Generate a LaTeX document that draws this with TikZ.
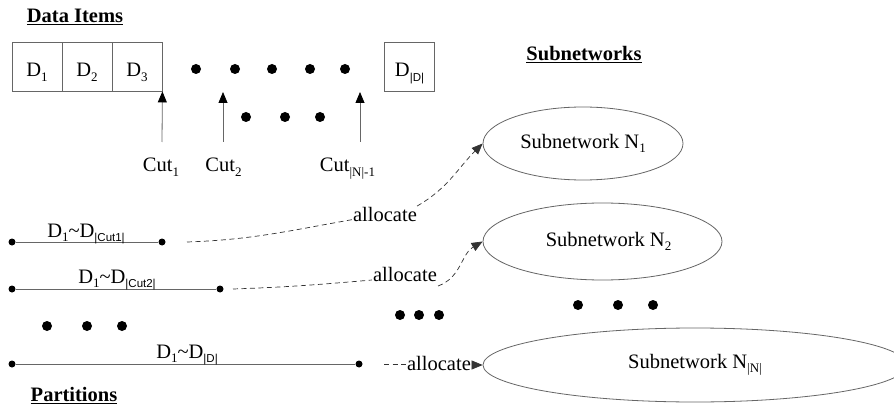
\documentclass[tikz,border=0pt]{standalone}
\usepackage{fontspec}
\setmainfont{Liberation Serif}
\newfontfamily\sfam{Liberation Sans}
\usetikzlibrary{shapes.geometric,arrows.meta}
\newcommand\sbs[1]{\raisebox{-0.2em}{\fontsize{13}{13}\selectfont #1}}
\newcommand\ssbs[1]{\raisebox{-0.2em}{\sfam\fontsize{11.5}{12}\selectfont #1}}
\begin{document}
\begin{tikzpicture}[x=1pt,y=-1pt,
  font=\fontsize{20.5}{24}\selectfont,
  txt/.style={anchor=base,inner sep=0pt},
  cell/.style={draw=gray!80!black,line width=0.8pt,minimum width=50pt,minimum height=49pt,inner sep=0pt,text depth=0pt},
  ell/.style={draw=gray!80!black,line width=0.8pt,ellipse,inner sep=0pt},
  bigdot/.style={fill=black},
  cutarrow/.style={draw=gray!80!black,line width=0.8pt,-{Triangle[length=11pt,width=9pt,fill=black,color=black]}},
  pline/.style={draw=gray!80!black,line width=0.8pt},
  pdot/.style={circle,fill=black,inner sep=0pt,minimum size=7pt},
  alloc/.style={draw=black!80,line width=0.7pt,dash pattern=on 5pt off 3.5pt},
  allocarrow/.style={alloc,-{Triangle[length=11pt,width=9pt]}},
  alab/.style={anchor=base,inner sep=1pt}]
\useasboundingbox (0,0) rectangle (894,414);
\fill[white] (0,0) rectangle (894,414);

% headings
\node[txt] (hdata) at (75,22.5) {\textbf{\underline{Data Items}}};
\node[txt] (hsub) at (584,60.5) {\textbf{\underline{Subnetworks}}};
\node[txt] (hpart) at (74,401.5) {\textbf{\underline{Partitions}}};

% data item cells
\node[cell] (d1) at (37,66.5) {};
\node[cell] (d2) at (87,66.5) {};
\node[cell] (d3) at (137,66.5) {};
\node[cell] (dD) at (409.5,66.5) {};
\node[txt] (t1) at (37,77) {D\sbs{1}};
\node[txt] (t2) at (87,77) {D\sbs{2}};
\node[txt] (t3) at (137,77) {D\sbs{3}};
\node[txt] (tD) at (409.5,77) {D\ssbs{|D|}};

% dots
\foreach \x in {196,235,272,310,345} \fill[bigdot] (\x,69) circle (5pt);
\foreach \x in {246,285,320} \fill[bigdot] (\x,117) circle (5pt);

% cuts
\node[txt] (cut1) at (161,172) {Cut\sbs{1}};
\node[txt] (cut2) at (223.5,172) {Cut\sbs{2}};
\node[txt] (cutn) at (347.5,172) {Cut\sbs{|N|-1}};
\coordinate (c1b) at (162,142);
\coordinate (c2b) at (223,142);
\coordinate (cnb) at (360,142);
\coordinate (c2t) at (223,92);
\coordinate (cnt) at (360,92);
\draw[cutarrow] (c1b) -- (d3.south east);
\draw[cutarrow] (c2b) -- (c2t);
\draw[cutarrow] (cnb) -- (cnt);

% subnetworks
\node[ell,minimum width=200pt,minimum height=73pt] (n1) at (583,143.5) {Subnetwork N\sbs{1}};
\node[ell,minimum width=239pt,minimum height=77pt] (n2) at (602.5,241.5) {\hspace{12pt}Subnetwork N\sbs{2}};
\begin{scope}
\clip (0,0) rectangle (894,414);
\node[ell,minimum width=424pt,minimum height=74pt] (n3) at (695,365) {Subnetwork N\sbs{|N|}};
\end{scope}
\foreach \x in {578,618,653} \fill[bigdot] (\x,305) circle (5pt);
\foreach \x in {400,419,439} \fill[bigdot] (\x,315) circle (5pt);

% partitions
\node[pdot] (p1a) at (12,242) {};
\node[pdot] (p1b) at (162,242) {};
\node[pdot] (p2a) at (12,289) {};
\node[pdot] (p2b) at (220,289) {};
\node[pdot] (p3a) at (12,364) {};
\node[pdot] (p3b) at (359,364) {};
\draw[pline] (p1a) -- (p1b);
\draw[pline] (p2a) -- (p2b);
\draw[pline] (p3a) -- (p3b);
\node[txt] (l1) at (86,237) {D\sbs{1}\textasciitilde D\ssbs{|Cut1|}};
\node[txt] (l2) at (117,283) {D\sbs{1}\textasciitilde D\ssbs{|Cut2|}};
\node[txt] (l3) at (187,358) {D\sbs{1}\textasciitilde D\ssbs{|D|}};
\foreach \x in {47,87,122} \fill[bigdot] (\x,326) circle (5pt);

% allocate arrows
\coordinate (s1) at (187,242);
\coordinate (s2) at (233,289);
\coordinate (s3) at (384,364);
\node[alab] (a1) at (385,221.5) {allocate};
\node[alab] (a2) at (405,281) {allocate};
\node[alab] (a3) at (439,370) {allocate};
\draw[alloc] (s1) to[out=2,in=190] ([xshift=1pt,yshift=2pt]a1.base west);
\draw[allocarrow] ([xshift=-1pt]a1.north east) to[out=30,in=225] (n1.west);
\draw[alloc] (s2) to[out=2,in=185] ([yshift=1pt]a2.base west);
\draw[allocarrow] ([yshift=-12pt]a2.east) to[out=20,in=210] (n2.west);
\draw[alloc] (s3) -- (s3 -| a3.west);
\draw[allocarrow] (a3.east |- n3.west) -- (n3.west);
\end{tikzpicture}
\end{document}
